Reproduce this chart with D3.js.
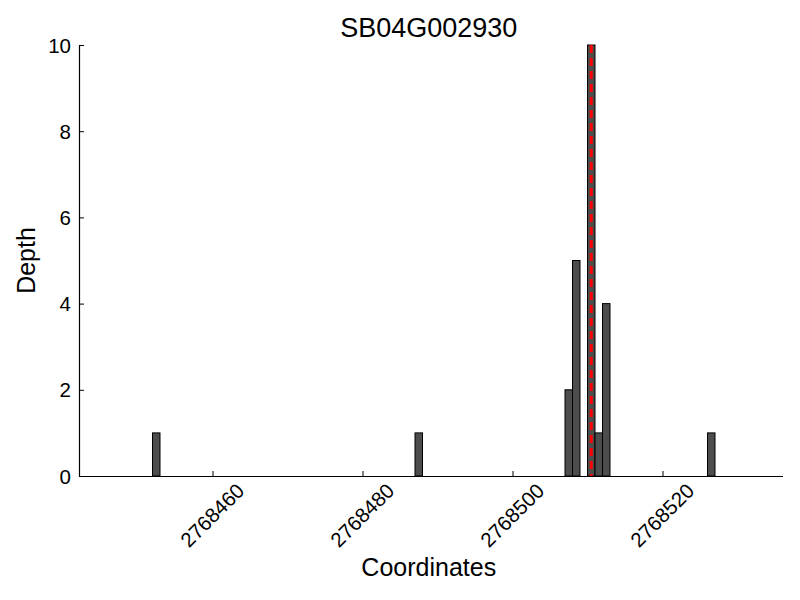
<!DOCTYPE html>
<html>
<head>
<meta charset="utf-8">
<script src="https://cdn.jsdelivr.net/npm/d3@7"></script>
<style>
  body { margin: 0; background: #fff; }
  svg { display: block; font-family: "Liberation Sans", Arial, sans-serif; }
</style>
</head>
<body>
<svg id="chart" width="800" height="600"></svg>
<script>
// ---- data ----
const title = "SB04G002930";
const positions = [2768452, 2768487, 2768507, 2768508, 2768510, 2768511, 2768512, 2768526];
const depths = [1, 1, 2, 5, 10, 1, 4, 1];
const markerPos = [2768510.5];
const xTicks = [2768460, 2768480, 2768500, 2768520];
const yTicks = [0, 2, 4, 6, 8, 10];
const xDomain = [2768442.2, 2768536];
const yDomain = [0, 10];

// ---- layout ----
const svg = d3.select("#chart");
const mLeft = 79, mRight = 782.5, mTop = 45, mBottom = 476;

const x = d3.scaleLinear().domain(xDomain).range([mLeft, mRight]);
const y = d3.scaleLinear().domain(yDomain).range([mBottom, mTop]);

// bars
svg.append("g").selectAll("rect")
  .data(positions.map((p, i) => ({ p, d: depths[i] })))
  .join("rect")
  .attr("x", d => x(d.p))
  .attr("width", d => x(d.p + 1) - x(d.p))
  .attr("y", d => y(d.d))
  .attr("height", d => y(0) - y(d.d))
  .attr("fill", "#4d4d4d")
  .attr("stroke", "#000")
  .attr("stroke-width", 1);

// red dashed marker
svg.append("g").selectAll("line")
  .data(markerPos)
  .join("line")
  .attr("x1", d => x(d)).attr("x2", d => x(d))
  .attr("y1", y(10)).attr("y2", y(0))
  .attr("stroke", "#ff0000")
  .attr("stroke-width", 3)
  .attr("stroke-dasharray", "8,5");

// x axis (ticks inward)
const xAxis = d3.axisBottom(x).tickValues(xTicks).tickSizeInner(-5).tickSizeOuter(0).tickFormat(d3.format("d"));
const gx = svg.append("g").attr("transform", `translate(0,${mBottom})`).call(xAxis);
gx.select(".domain").attr("stroke", "#000").attr("stroke-width", 1.2);
gx.selectAll(".tick line").attr("stroke", "#000");
gx.selectAll(".tick text")
  .attr("font-size", 20.5)
  .attr("fill", "#000")
  .attr("text-anchor", "middle")
  .attr("dominant-baseline", "central")
  .attr("y", 0)
  .attr("dy", 0)
  .attr("transform", "translate(-1,39) rotate(-45)");

// y axis (ticks inward)
const yAxis = d3.axisLeft(y).tickValues(yTicks).tickSizeInner(-5).tickSizeOuter(0).tickFormat(d3.format("d"));
const gy = svg.append("g").attr("transform", `translate(${mLeft},0)`).call(yAxis);
gy.select(".domain").attr("stroke", "#000").attr("stroke-width", 1.2);
gy.selectAll(".tick line").attr("stroke", "#000");
gy.selectAll(".tick text")
  .attr("font-size", 20.5)
  .attr("fill", "#000")
  .attr("x", -8)
  .attr("dy", "0.35em");

// title
svg.append("text")
  .attr("x", (mLeft + mRight) / 2 - 2).attr("y", 37)
  .attr("text-anchor", "middle")
  .attr("font-size", 27)
  .attr("fill", "#000")
  .text(title);

// axis labels
svg.append("text")
  .attr("x", (mLeft + mRight) / 2 - 2).attr("y", 576)
  .attr("text-anchor", "middle")
  .attr("font-size", 25)
  .attr("fill", "#000")
  .text("Coordinates");

svg.append("text")
  .attr("transform", `translate(35,${(mTop + mBottom) / 2}) rotate(-90)`)
  .attr("text-anchor", "middle")
  .attr("font-size", 25)
  .attr("fill", "#000")
  .text("Depth");
</script>
</body>
</html>
